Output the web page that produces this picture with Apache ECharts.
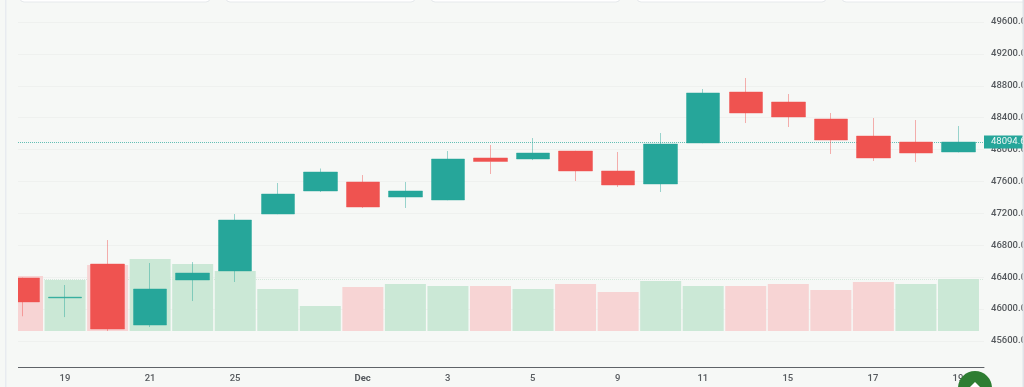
<!DOCTYPE html>
<html><head><meta charset="utf-8">
<style>html,body{margin:0;padding:0;background:#f6f8f6}#c{width:1024px;height:387px}</style>
<script src="https://cdn.jsdelivr.net/npm/echarts@6/dist/echarts.min.js"></script>
</head><body><div id="c"></div>
<script>
// tick labels by candle position ('' = no label)
const tickLabels = ['', '19', '', '21', '', '25', '', '', 'Dec', '', '3', '', '5', '', '9', '', '11', '', '15', '', '17', '', '19'];
const yTicks = { min: 45600, max: 49600, step: 400 };
const opens  = [46390,46140,46565,45800,46365,46478,47192,47481,47594,47405,47368,47895,47882,47982,47732,47569,48083,48722,48597,48384,48170,48095,47970];
const closes = [46090,46150,45750,46252,46452,47117,47443,47719,47280,47481,47882,47851,47957,47732,47556,48070,48710,48459,48409,48120,47895,47957,48095];
const lows   = [45910,45900,45725,45775,46101,46340,47190,47468,47268,47268,47365,47694,47869,47606,47531,47468,48080,48333,48283,47945,47857,47844,47965];
const highs  = [46395,46302,46866,46578,46590,47192,47581,47763,47681,47594,47982,48058,48145,47985,47970,48208,48760,48898,48697,48459,48396,48371,48296];
const volumes = [55,51,66,72,67,60,42,25,44,47,45,45,42,47,39,50,45,45,47,41,49,47,52];
const volumeUp = [0,1,0,1,1,1,1,1,0,1,1,0,1,0,0,1,1,0,0,0,0,1,1];
const lastPrice = 48094.66;

const UP = '#26a69a', DOWN = '#ef5350', VUP = '#cbe8d6', VDOWN = '#f7d4d4', BG = '#f6f8f6';
const xExtent = { min: -0.106, max: 22.6 };

const chart = echarts.init(document.getElementById('c'));
const xBase = { type: 'value', min: xExtent.min, max: xExtent.max, containShape: false, splitLine: { show: false }, axisLabel: { show: false }, axisTick: { show: false } };
const labelFont = { fontFamily: 'Roboto, sans-serif', fontSize: 9.5, fontWeight: 500, color: '#55595d' };
const deco = [];
[[20,210],[226,415],[431,620],[637,826],[842,1030]].forEach(([a,b]) => deco.push({
  type: 'rect', silent: true, z: 1, shape: { x: a, y: -8, width: b - a, height: 10, r: 4 },
  style: { fill: '#ffffff', stroke: '#e6e9ec', lineWidth: 1 }
}));
// plot-area left margin: the first session is cut off at the pane edge
deco.push({ type: 'rect', silent: true, z: 40, shape: { x: 0, y: 4, width: 18, height: 383 }, style: { fill: BG } });
deco.push({ type: 'rect', silent: true, z: 41, shape: { x: 5, y: 0, width: 1.5, height: 387 }, style: { fill: '#e8ebf0' } });
deco.push({ type: 'rect', silent: true, z: 41, shape: { x: 1022.5, y: 0, width: 1.5, height: 387 }, style: { fill: '#e0e3e8' } });
deco.push({ type: 'circle', silent: true, z: 50, shape: { cx: 975, cy: 388, r: 17 }, style: { fill: '#2e7d32' } });
deco.push({ type: 'polygon', silent: true, z: 51, shape: { points: [[975,382],[980,387],[970,387]] }, style: { fill: '#ffffff' } });

chart.setOption({
  animation: false,
  backgroundColor: BG,
  graphic: deco,
  grid: [
    { left: 18, right: 40, top: 22, height: 319, outerBoundsMode: 'none' },
    { left: 18, right: 40, top: 231, height: 100, outerBoundsMode: 'none' },
    // label-only grid: one band per candle, so labels sit under their candles
    { left: 1.24, width: 977.96, top: 231, height: 100, outerBoundsMode: 'none' }
  ],
  xAxis: [
    Object.assign({}, xBase, { gridIndex: 0, show: false }),
    Object.assign({}, xBase, {
      gridIndex: 1, offset: 36,
      axisLine: { show: true, onZero: false, lineStyle: { color: '#5f6368', width: 1 } }
    }),
    { type: 'category', gridIndex: 2, offset: 36, data: tickLabels,
      axisLine: { show: false }, axisTick: { show: false }, splitLine: { show: false },
      axisLabel: Object.assign({}, labelFont, {
        margin: 7, interval: 0, hideOverlap: false,
        formatter: s => s === 'Dec' ? '{b|Dec}' : s,
        rich: { b: Object.assign({}, labelFont, { fontWeight: 'bold' }) }
      }) }
  ],
  yAxis: [
    { type: 'value', gridIndex: 0, position: 'right', min: yTicks.min, max: yTicks.max, interval: yTicks.step,
      axisLine: { show: false }, axisTick: { show: false },
      splitLine: { show: true, lineStyle: { color: '#eff1ef', width: 1 } },
      axisLabel: Object.assign({}, labelFont, { margin: 7, formatter: v => v.toFixed(2) }) },
    { type: 'value', gridIndex: 1, min: 0, max: 100, show: false, splitLine: { show: false } },
    { type: 'value', gridIndex: 2, min: 0, max: 100, show: false, splitLine: { show: false } }
  ],
  series: [
    { type: 'bar', xAxisIndex: 1, yAxisIndex: 1, barWidth: 41, z: 1, clip: true,
      data: volumes.map((v, i) => ({ value: [i, v], itemStyle: { color: volumeUp[i] ? VUP : VDOWN } })),
      markLine: { silent: true, symbol: 'none', z: 1, label: { show: false },
        lineStyle: { color: '#d5e8dc', type: 'dotted', width: 1 },
        data: [{ yAxis: volumes[volumes.length - 1] }] } },
    { type: 'candlestick', xAxisIndex: 0, yAxisIndex: 0, barWidth: 34, z: 3, clip: true,
      itemStyle: { color: UP, color0: DOWN, borderColor: 'rgba(38,166,154,0.45)', borderColor0: 'rgba(239,83,80,0.45)', borderWidth: 1 },
      data: opens.map((o, i) => [i, o, closes[i], lows[i], highs[i]]),
      markLine: { silent: true, symbol: 'none', z: 2,
        lineStyle: { color: 'rgba(38,166,154,0.7)', type: 'dotted', width: 1 },
        label: { show: true, position: 'end', distance: 0, formatter: () => lastPrice.toFixed(2), overflow: 'none',
          backgroundColor: UP, color: '#eef8f6', fontFamily: 'Roboto, sans-serif', fontSize: 9.5,
          padding: [1.5, 8, 1.5, 7], align: 'left', verticalAlign: 'middle' },
        data: [{ yAxis: lastPrice }] } }
  ]
});
</script></body></html>
